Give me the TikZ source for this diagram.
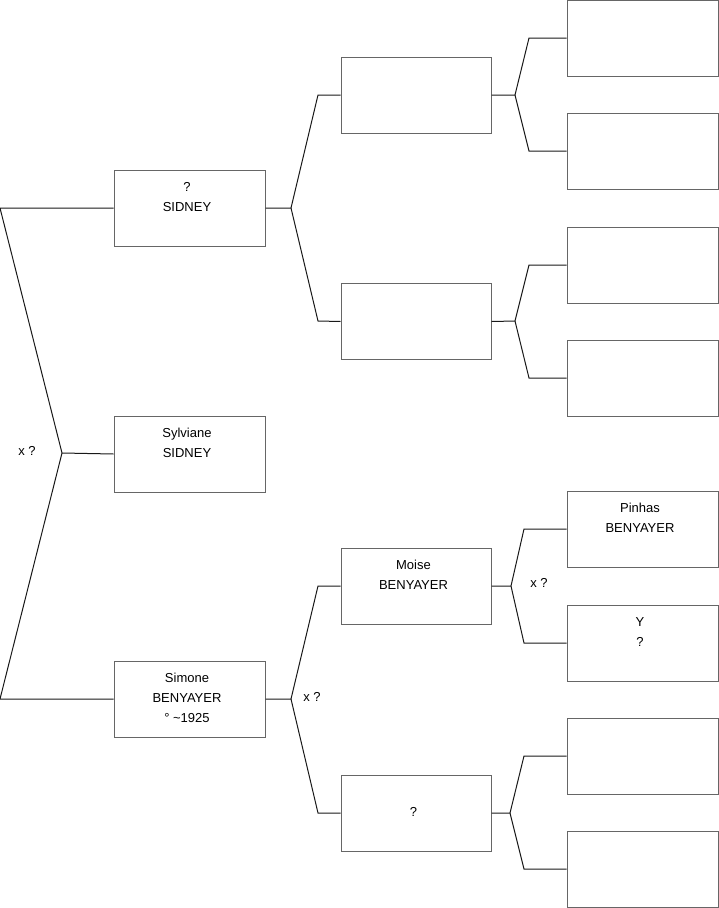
\documentclass[tikz,border=0pt]{standalone}
\usepackage{fontspec}
\setmainfont{Liberation Sans}
\begin{document}
\begin{tikzpicture}[x=1pt,y=-1pt,
  box/.style={draw=black!60, line width=1pt, minimum width=151pt, minimum height=76pt, inner sep=0pt},
  txt/.style={anchor=north, inner sep=0pt, align=center, font=\fontsize{13}{20}\selectfont},
  lbl/.style={inner sep=0pt, font=\fontsize{13}{15}\selectfont},
  conn/.style={draw=black!90, line width=1pt}]
\useasboundingbox (0,0) rectangle (719,908);
% column 1
\node[box] (a1) at (189.5,208) {};
\node[box] (a2) at (189.5,454) {};
\node[box] (a3) at (189.5,699) {};
% column 2
\node[box, minimum width=150pt] (b1) at (416,95) {};
\node[box, minimum width=150pt] (b2) at (416,321.5) {};
\node[box, minimum width=150pt] (b3) at (416,586) {};
\node[box, minimum width=150pt] (b4) at (416,813) {};
% column 3
\node[box] (c1) at (642.5,38) {};
\node[box] (c2) at (642.5,151) {};
\node[box] (c3) at (642.5,265) {};
\node[box] (c4) at (642.5,378) {};
\node[box] (c5) at (642.5,529) {};
\node[box] (c6) at (642.5,643) {};
\node[box] (c7) at (642.5,756) {};
\node[box] (c8) at (642.5,869) {};
% texts
\node[txt] (ta1) at ([xshift=-2.5pt,yshift=-11.5pt]a1.north) {\rule{0pt}{10pt}?\\SIDNEY};
\node[txt] (ta2) at ([xshift=-2.5pt,yshift=-11.5pt]a2.north) {\rule{0pt}{10pt}Sylviane\\SIDNEY};
\node[txt] (ta3) at ([xshift=-2.5pt,yshift=-11.5pt]a3.north) {\rule{0pt}{10pt}Simone\\BENYAYER\\° \textasciitilde1925};
\node[txt] (tb3) at ([xshift=-2.5pt,yshift=-11.5pt]b3.north) {\rule{0pt}{10pt}Moise\\BENYAYER};
\node[txt] (tb4) at ([xshift=-2.5pt,yshift=-31.5pt]b4.north) {\rule{0pt}{10pt}?};
\node[txt] (tc5) at ([xshift=-2.5pt,yshift=-11.5pt]c5.north) {\rule{0pt}{10pt}Pinhas\\BENYAYER};
\node[txt] (tc6) at ([xshift=-2.5pt,yshift=-11.5pt]c6.north) {\rule{0pt}{10pt}Y\\?};
% coordinates
\coordinate (L1) at (0,208);
\coordinate (J0) at (62,453);
\coordinate (L2) at (0,699);
\coordinate (Ja1) at (291,208);
\coordinate (Ka1t) at (318,95);
\coordinate (Ka1b) at (318,321);
\coordinate (Ja3) at (291,699);
\coordinate (Ka3t) at (318,586);
\coordinate (Ka3b) at (318,813);
\coordinate (Jb1) at (515,95);
\coordinate (Kb1t) at (529,38);
\coordinate (Kb1b) at (529,151);
\coordinate (Jb2) at (515,321);
\coordinate (Kb2t) at (529,265);
\coordinate (Kb2b) at (529,378);
\coordinate (Jb3) at (511,586);
\coordinate (Kb3t) at (524,529);
\coordinate (Kb3b) at (524,643);
\coordinate (Jb4) at (510,813);
\coordinate (Kb4t) at (524,756);
\coordinate (Kb4b) at (524,869);
% connectors
\draw[conn] (a1.west) -- (L1) -- (J0) -- (L2) -- (a3.west);
\draw[conn] (J0) -- (a2.west);
\draw[conn] (a1.east) -- (Ja1) -- (Ka1t) -- (b1.west);
\draw[conn] (Ja1) -- (Ka1b) -- (b2.west);
\draw[conn] (a3.east) -- (Ja3) -- (Ka3t) -- (b3.west);
\draw[conn] (Ja3) -- (Ka3b) -- (b4.west);
\draw[conn] (b1.east) -- (Jb1) -- (Kb1t) -- (c1.west);
\draw[conn] (Jb1) -- (Kb1b) -- (c2.west);
\draw[conn] (b2.east) -- (Jb2) -- (Kb2t) -- (c3.west);
\draw[conn] (Jb2) -- (Kb2b) -- (c4.west);
\draw[conn] (b3.east) -- (Jb3) -- (Kb3t) -- (c5.west);
\draw[conn] (Jb3) -- (Kb3b) -- (c6.west);
\draw[conn] (b4.east) -- (Jb4) -- (Kb4t) -- (c7.west);
\draw[conn] (Jb4) -- (Kb4b) -- (c8.west);
% marriage labels
\node[lbl] (m0) at (27,451) {x ?};
\node[lbl] (m1) at (312,697) {x ?};
\node[lbl] (m2) at (539,583) {x ?};
\end{tikzpicture}
\end{document}
